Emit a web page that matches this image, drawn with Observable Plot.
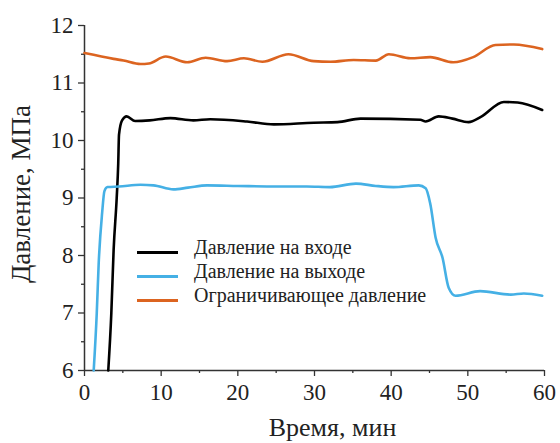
<!DOCTYPE html>
<html>
<head>
<meta charset="utf-8">
<script src="https://cdn.jsdelivr.net/npm/d3@7"></script>
<script src="https://cdn.jsdelivr.net/npm/@observablehq/plot@0.6"></script>
<style>
  html, body { margin: 0; padding: 0; background: #fff; }
  #wrap { position: relative; width: 560px; height: 443px; font-family: "Liberation Serif", "Times New Roman", Times, serif; }
  #wrap svg, #wrap svg text { font-family: "Liberation Serif", "Times New Roman", Times, serif !important; }
  #legend { position: absolute; left: 137px; top: 235px; font-size: 20px; line-height: 24px; color: #222; }
  .row { display: flex; align-items: center; height: 24px; white-space: nowrap; }
  .sw { width: 41px; height: 3px; margin-right: 16px; position: relative; top: 5px; }
</style>
</head>
<body>
<div id="wrap"></div>
<script>
// Series: Давление на входе (inlet)
const inletTime  = [3.1, 3.5, 3.8, 4.2, 4.4, 4.5, 4.9, 5.5, 6.6, 8.5, 11.2, 14.2, 16.4, 21.2, 24.7, 29.9, 33, 36, 43.8, 44.5, 46.2, 48, 50.1, 51.7, 54.7, 56.5, 59.7];
const inletValue = [6.0, 7.0, 8.1, 9.0, 9.6, 10.1, 10.35, 10.42, 10.34, 10.35, 10.39, 10.35, 10.37, 10.33, 10.28, 10.31, 10.32, 10.38, 10.36, 10.33, 10.42, 10.38, 10.32, 10.41, 10.67, 10.66, 10.53];
// Series: Давление на выходе (outlet)
const outletTime  = [1.2, 1.6, 1.85, 2.3, 2.6, 3.0, 4.5, 7.3, 9, 11.6, 13.5, 16, 20, 25, 29, 32, 35.4, 38, 40.3, 43.6, 44.5, 45.1, 45.8, 46.7, 47.5, 48.4, 51.6, 55.6, 57.3, 59.7];
const outletValue = [6.0, 7.0, 7.86, 8.74, 9.12, 9.19, 9.2, 9.23, 9.22, 9.15, 9.18, 9.22, 9.21, 9.2, 9.2, 9.19, 9.25, 9.21, 9.19, 9.22, 9.17, 8.9, 8.31, 7.96, 7.44, 7.30, 7.38, 7.32, 7.34, 7.30];
// Series: Ограничивающее давление (limit)
const limitTime  = [0, 3.8, 5.1, 7.3, 8.4, 10.6, 13.4, 15.8, 18.6, 20.8, 23.2, 26.6, 29.9, 32.1, 35.1, 38, 39.7, 42.5, 45.1, 48.1, 50.7, 53.6, 56, 59.7];
const limitValue = [11.52, 11.42, 11.39, 11.33, 11.34, 11.46, 11.36, 11.44, 11.38, 11.43, 11.37, 11.50, 11.38, 11.37, 11.40, 11.39, 11.50, 11.43, 11.45, 11.36, 11.45, 11.66, 11.67, 11.59];

const seriesNames = ["Давление на входе", "Давление на выходе", "Ограничивающее давление"];
const seriesColors = ["#000000", "#45b0e5", "#dc6420"];

const xTicks = [0, 10, 20, 30, 40, 50, 60];
const xMinorTicks = [5, 15, 25, 35, 45, 55];
const yTicks = [6, 7, 8, 9, 10, 11, 12];
const yMinorTicks = [6.5, 7.5, 8.5, 9.5, 10.5, 11.5];

const xLabel = "Время, мин";
const yLabel = "Давление, МПа";

const toRows = (ts, vs) => ts.map((t, i) => ({t, v: vs[i]}));
const inlet = toRows(inletTime, inletValue);
const outlet = toRows(outletTime, outletValue);
const limit = toRows(limitTime, limitValue);

const lineOpts = (c) => ({x: "t", y: "v", stroke: c, strokeWidth: 2.6, curve: "monotone-x"});
const fmt = (d) => String(d);

const chart = Plot.plot({
  width: 560,
  height: 443,
  marginLeft: 84,
  marginRight: 16,
  marginTop: 25,
  marginBottom: 73,
  x: {domain: [0, 60]},
  y: {domain: [6, 12]},
  style: {fontSize: "23px", color: "#222", background: "#fff"},
  marks: [
    Plot.axisX({ticks: xTicks, tickFormat: fmt, tickSize: 6, tickPadding: 7, label: null, stroke: "#333", strokeWidth: 1.3, fontSize: 23}),
    Plot.axisX({ticks: xMinorTicks, tickSize: 3, text: null, label: null, stroke: "#333", strokeWidth: 1.3}),
    Plot.axisY({ticks: yTicks, tickFormat: fmt, tickSize: 6, tickPadding: 5, label: null, stroke: "#333", strokeWidth: 1.3, fontSize: 23}),
    Plot.axisY({ticks: yMinorTicks, tickSize: 3, text: null, label: null, stroke: "#333", strokeWidth: 1.3}),
    Plot.ruleX([0], {stroke: "#333", strokeWidth: 1.5}),
    Plot.ruleY([6], {stroke: "#333", strokeWidth: 1.5}),
    Plot.line(limit, lineOpts(seriesColors[2])),
    Plot.line(inlet, lineOpts(seriesColors[0])),
    Plot.line(outlet, lineOpts(seriesColors[1])),
    Plot.text([xLabel], {frameAnchor: "bottom", textAnchor: "middle", dy: 65, dx: 18, fontSize: 26, fill: "#222"}),
    Plot.text([yLabel], {frameAnchor: "left", textAnchor: "middle", lineAnchor: "middle", rotate: -90, dx: -63, dy: -4, fontSize: 27, fill: "#222"})
  ]
});

const wrap = document.getElementById("wrap");
wrap.appendChild(chart);

const legend = document.createElement("div");
legend.id = "legend";
seriesNames.forEach((name, i) => {
  const row = document.createElement("div");
  row.className = "row";
  const sw = document.createElement("div");
  sw.className = "sw";
  sw.style.background = seriesColors[i];
  const label = document.createElement("span");
  label.textContent = name;
  row.appendChild(sw);
  row.appendChild(label);
  legend.appendChild(row);
});
wrap.appendChild(legend);
</script>
</body>
</html>
